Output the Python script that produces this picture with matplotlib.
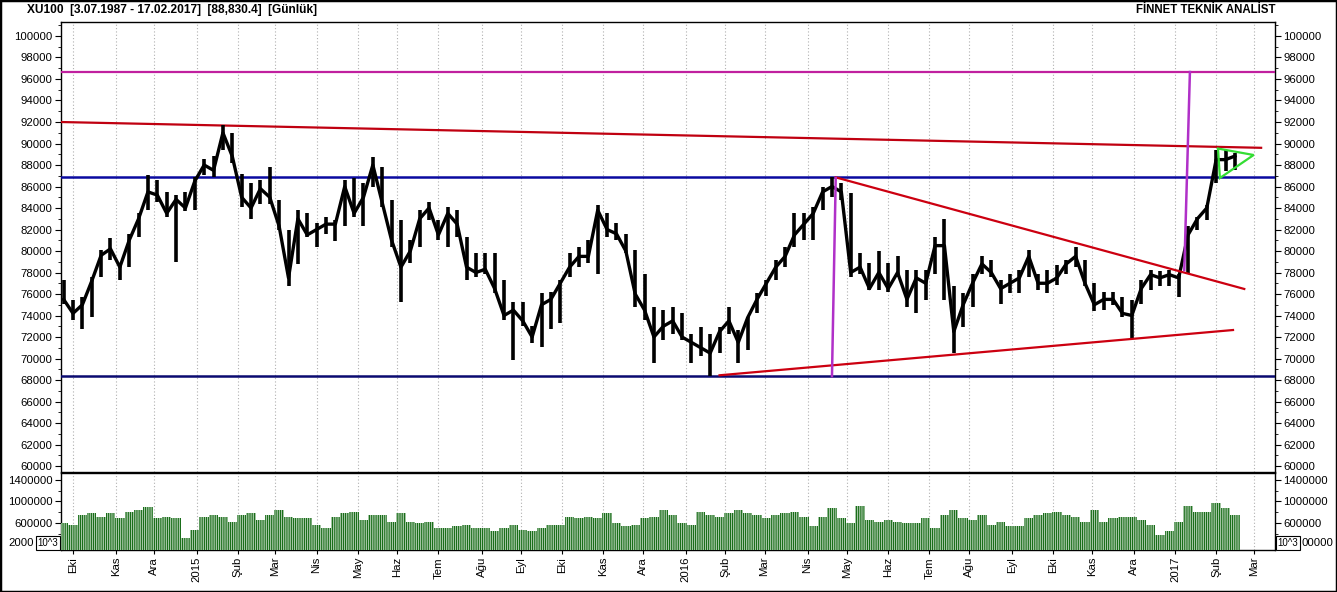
import numpy as np
import pandas as pd
import matplotlib
matplotlib.use("Agg")
import matplotlib.pyplot as plt
from matplotlib.ticker import MultipleLocator, FixedLocator, FuncFormatter
from matplotlib.patches import Rectangle, Polygon

# ---------------- data (weekly) ----------------
week_start = "2014-09-24"   # Wednesday of first week
week_hi = [77300, 75450, 75700, 77600, 80100, 81200, 78800, 81600, 83500, 87100,
           86600, 85500, 85200, 85500, 86900, 88600, 88800, 91700, 91000, 87200,
           86300, 86600, 87800, 84700, 82000, 83800, 83500, 82600, 83200, 82900,
           86600, 86800, 86300, 88700, 87800, 84700, 82900, 81000, 83800, 84600,
           82900, 84100, 83800, 81300, 79800, 79800, 79800, 77300, 75300, 75300,
           73000, 76100, 76200, 77300, 79800, 80400, 81000, 84300, 83500, 82600,
           81600, 80100, 77900, 74800, 74500, 74800, 74200, 72300, 72950, 72300,
           72950, 74800, 72650, 73900, 76100, 77300, 79200, 80400, 83500, 83500,
           84100, 86000, 86850, 86300, 85400, 79800, 78850, 80000, 78850, 79500,
           78200, 78200, 78200, 81300, 83000, 76700, 76100, 77900, 79500, 79200,
           77300, 77900, 78200, 80100, 77900, 78200, 78700, 79200, 80400, 79200,
           77000, 76200, 76200, 75750, 75400, 77300, 78200, 78100, 78200, 77900,
           82300, 83200, 84300, 89400, 89400, 89100]
week_lo = [75100, 73600, 72700, 73900, 77600, 79200, 77300, 78500, 81300, 83800,
           84600, 83200, 79000, 83700, 83800, 87100, 86900, 89400, 88200, 84100,
           83000, 84400, 84400, 82000, 76700, 78800, 81300, 80400, 81600, 80900,
           82300, 83200, 82300, 86000, 84100, 80400, 75300, 78900, 80400, 82900,
           81000, 80400, 81300, 77300, 77600, 77900, 76100, 73600, 69900, 73000,
           71400, 71100, 72700, 73300, 77600, 78500, 78900, 77900, 81300, 81000,
           79800, 74800, 73600, 69600, 71700, 72300, 71700, 69600, 70200, 68400,
           70500, 72300, 69550, 70800, 74200, 75800, 77300, 78550, 80400, 81000,
           81000, 83800, 85000, 84700, 77600, 77900, 76400, 76400, 76200, 77600,
           74800, 74200, 75450, 77900, 75450, 70500, 72950, 74800, 77900, 77600,
           75100, 76100, 76100, 77600, 76400, 76100, 76800, 77900, 78550, 76700,
           74400, 74500, 75000, 73900, 71900, 75100, 76400, 76700, 76700, 75750,
           77900, 81950, 82900, 86300, 87400, 87500]
week_close = [75500, 74200, 75000, 77200, 79600, 80200, 78500, 81000, 83000, 85500,
              85200, 83500, 84800, 84000, 86500, 88000, 87500, 91000, 88800, 85000,
              84000, 85800, 85000, 82300, 77500, 83000, 81500, 82000, 82500, 82500,
              86000, 83500, 85000, 88000, 84500, 81000, 78500, 80000, 83000, 84000,
              81500, 83500, 82500, 78500, 78000, 78300, 76500, 74000, 74500, 73500,
              72000, 75000, 75500, 77000, 78500, 79500, 79500, 83800, 82000, 81600,
              80000, 76000, 74500, 72000, 73000, 73500, 72000, 71500, 71000, 70500,
              72500, 73500, 71500, 73800, 75500, 77000, 78500, 79500, 81500, 82500,
              83500, 85500, 86000, 85500, 78000, 78500, 76500, 78000, 76500, 78000,
              75500, 77500, 77000, 80500, 80500, 72500, 75000, 77000, 78800, 78000,
              76500, 77000, 77500, 79500, 77000, 77000, 77500, 78800, 79500, 77000,
              75000, 75500, 75500, 74200, 74000, 76500, 77800, 77500, 77800, 77500,
              81500, 83000, 84000, 88500, 88500, 88830]
week_vol_k = [600, 570, 750, 780, 720, 780, 690, 815, 846, 900,
              690, 720, 690, 320, 480, 720, 750, 720, 630, 750,
              780, 660, 750, 846, 720, 690, 690, 570, 510, 720,
              780, 815, 660, 750, 750, 630, 780, 630, 600, 630,
              510, 520, 540, 570, 510, 510, 450, 510, 570, 480,
              450, 510, 570, 570, 720, 690, 720, 690, 780, 600,
              540, 570, 690, 720, 846, 750, 600, 570, 815, 750,
              720, 780, 846, 780, 750, 690, 750, 780, 815, 720,
              540, 720, 880, 690, 600, 910, 660, 630, 660, 630,
              600, 600, 690, 510, 750, 846, 690, 660, 750, 570,
              630, 540, 540, 690, 750, 780, 815, 750, 720, 630,
              846, 630, 690, 720, 720, 660, 570, 380, 450, 630,
              910, 815, 815, 970, 880, 750]

month_starts = pd.date_range("2014-10-01", "2017-03-01", freq="MS")
month_labels = ["Eki", "Kas", "Ara", "2015", "Şub", "Mar", "Nis", "May", "Haz", "Tem",
                "Ağu", "Eyl", "Eki", "Kas", "Ara", "2016", "Şub", "Mar", "Nis", "May",
                "Haz", "Tem", "Ağu", "Eyl", "Eki", "Kas", "Ara", "2017", "Şub", "Mar"]

# horizontal levels
level_magenta = 96650
level_blue_hi = 86880
level_blue_lo = 68370
# trend lines: (date, value) pairs
upper_red = [("2014-09-22", 92000), ("2017-03-07", 89600)]
tri_upper = [("2016-04-22", 86850), ("2017-02-22", 76470)]
tri_lower = [("2016-01-27", 68440), ("2017-02-14", 72650)]
mag_v1 = [("2016-04-20", 68370), ("2016-04-22", 86790)]
mag_v2 = [("2017-01-09", 78230), ("2017-01-12", 96650)]
green_tri = [("2017-02-02", 89530), ("2017-03-01", 88930), ("2017-02-03", 86790)]

title_left = "XU100  [3.07.1987 - 17.02.2017]  [88,830.4]  [Günlük]"
title_right = "FİNNET TEKNİK ANALİST"

# ---------------- layout ----------------
plt.rcParams["font.family"] = ["Liberation Sans", "DejaVu Sans"]
plt.rcParams["hatch.linewidth"] = 0.9
FS = 8.2
W, H = 1337, 592
fig = plt.figure(figsize=(W / 100, H / 100), dpi=100)


def rect(x0, y0, x1, y1):
    return [x0 / W, 1 - y1 / H, (x1 - x0) / W, (y1 - y0) / H]


ax = fig.add_axes(rect(61, 22, 1275, 472))
axv = fig.add_axes(rect(61, 473, 1275, 550), sharex=ax)

bdays = pd.bdate_range("2014-09-22", "2017-03-31")


def pos(d):
    return bdays.searchsorted(pd.Timestamp(d))


week_dates = pd.date_range(week_start, periods=len(week_hi), freq="7D")
wx = np.array([pos(d) for d in week_dates])
mx = np.array([pos(d) for d in month_starts])

# price
ax.vlines(wx, week_lo, week_hi, color="black", lw=2.6, zorder=4)
ax.plot(wx, week_close, color="black", lw=2.4, zorder=4)

# levels
ax.axhline(level_magenta, color="#c0209f", lw=1.6, zorder=3)
ax.axhline(level_blue_hi, color="#0a0aa0", lw=1.8, zorder=3)
ax.axhline(level_blue_lo, color="#0a0a70", lw=1.8, zorder=3)


def seg(pts, **kw):
    xs = [pos(d) for d, v in pts]
    ys = [v for d, v in pts]
    ax.plot(xs, ys, **kw)


seg(upper_red, color="#c00010", lw=1.6, zorder=3)
seg(tri_upper, color="#cc0010", lw=1.6, zorder=5)
seg(tri_lower, color="#cc0010", lw=1.6, zorder=5)
seg(mag_v1, color="#b030c8", lw=1.8, zorder=5)
seg(mag_v2, color="#b030c8", lw=1.8, zorder=5)
gp = [(pos(d), v) for d, v in green_tri]
ax.add_patch(Polygon(gp, closed=True, fill=False, ec="#33dd33", lw=1.6, zorder=6))

ax.set_xlim(0.6, 648.4)
ax.set_ylim(59443, 101302)
ax.yaxis.set_major_locator(MultipleLocator(2000))
ax.yaxis.set_minor_locator(MultipleLocator(1000))
ax.yaxis.set_major_formatter(FuncFormatter(lambda v, p: "%d" % v))
ax.tick_params(axis="y", which="both", left=True, right=True, labelleft=True,
               labelright=True, direction="out", labelsize=FS, pad=2)
ax.tick_params(axis="y", which="major", length=4)
ax.tick_params(axis="y", which="minor", length=2)
ax.tick_params(axis="x", which="both", bottom=False, labelbottom=False)
ax.grid(axis="x", ls=(0, (1, 2)), color="#b0b0b0", lw=0.8)

# volume
vol = np.array(week_vol_k) * 1000
axv.bar(wx, vol, width=5.0, facecolor="white", edgecolor="#1a6e1a", hatch="|" * 9,
        lw=0, zorder=3)
axv.set_ylim(107000, 1523000)
axv.yaxis.set_major_locator(FixedLocator([200000, 600000, 1000000, 1400000]))
axv.yaxis.set_minor_locator(MultipleLocator(200000))
axv.yaxis.set_major_formatter(FuncFormatter(lambda v, p: "" if v < 300000 else "%d" % v))
axv.tick_params(axis="y", which="both", left=True, right=True, labelleft=True,
                labelright=True, direction="out", labelsize=FS, pad=2)
axv.tick_params(axis="y", which="major", length=4)
axv.tick_params(axis="y", which="minor", length=2)
axv.set_xticks(mx)
axv.set_xticklabels(month_labels, rotation=90, fontsize=FS)
axv.tick_params(axis="x", direction="out", length=3, pad=2)
axv.grid(axis="x", ls=(0, (1, 2)), color="#b0b0b0", lw=0.8)

for a in (ax, axv):
    for s in a.spines.values():
        s.set_color("black")
        s.set_linewidth(1.0)

# 10^3 boxes partly hiding the 200000 labels, as in the original
fig.text(8 / W, 1 - 543 / H, "2000", fontsize=FS, ha="left", va="center")
fig.text(1302 / W, 1 - 543 / H, "00000", fontsize=FS, ha="left", va="center")
for xx in (48 / W, 1288 / W):
    fig.text(xx, 1 - 543 / H, "10^3", fontsize=7.0, ha="center", va="center",
             bbox=dict(boxstyle="square,pad=0.2", fc="white", ec="black", lw=0.8),
             zorder=10)

fig.text(27 / W, 1 - 10 / H, title_left, fontsize=8.6, fontweight="bold",
         ha="left", va="center")
fig.text(1275 / W, 1 - 10 / H, title_right, fontsize=8.3, fontweight="bold",
         ha="right", va="center")

fig.patches.append(Rectangle((0, 0), 1, 1, transform=fig.transFigure, fill=False,
                             ec="black", lw=2.5))

fig.savefig("out.png", dpi=100)
